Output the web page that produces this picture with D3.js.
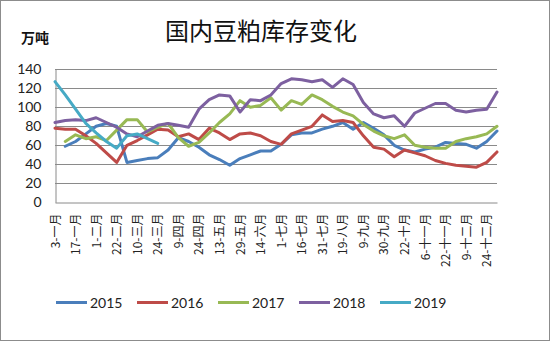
<!DOCTYPE html>
<html><head><meta charset="utf-8">
<script src="https://cdn.jsdelivr.net/npm/d3@7/dist/d3.min.js"></script>
<style>html,body{margin:0;padding:0;background:#fff}svg{display:block}</style>
</head><body><svg id="c" width="550" height="341"></svg>
<script>
const title = "国内豆粕库存变化";
const unitLabel = "万吨";
const tickLabels = ["3-一月","17-一月","1-二月","22-二月","10-三月","24-三月","9-四月","24-四月","13-五月","29-五月","14-六月","1-七月","16-七月","31-七月","19-八月","9-九月","30-九月","22-十月","6-十一月","22-十一月","9-十二月","24-十二月"];
const categoryCount = 44;
const yTicks = [0,20,40,60,80,100,120,140];
const seriesNames = ["2015","2016","2017","2018","2019"];
const colors = ["#4A7EBB","#BE4B48","#98B954","#7D60A0","#46AAC5"];
const s2015 = [null,59,64,72,80,83,80,42,44,46,47,55,68,64,58,50,45,39,46,50,54,54,61,71,73,73,77,80,84,77,84,78,71,60,55,53,56,58,63,62,61,57,64,75];
const s2016 = [78,77,77,70,62,52,42,60,65,71,77,76,69,72,66,78,73,66,72,73,70,64,61,72,76,80,92,85,86,84,70,58,56,48,55,52,49,44,41,39,38,37,42,53];
const s2017 = [null,64,71,67,69,65,76,87,87,74,79,83,68,59,63,73,84,93,107,100,102,110,97,107,103,113,108,101,95,91,82,75,70,67,71,60,58,57,57,64,67,69,72,80];
const s2018 = [84,86,87,86,89,84,79,72,69,75,81,83,81,79,98,108,113,112,95,108,107,113,125,130,129,127,129,121,130,124,105,93,89,91,80,94,99,104,104,97,95,97,98,116];
const s2019 = [127,113,98,83,73,64,57,70,72,67,62,null,null,null,null,null,null,null,null,null,null,null,null,null,null,null,null,null,null,null,null,null,null,null,null,null,null,null,null,null,null,null,null,null];
const seriesValues = [s2015,s2016,s2017,s2018,s2019];

const svg = d3.select("#c");
const W = 550, H = 341;
const m = {left:55, right:53, top:69.3, bottom:138.7};
const x = d3.scalePoint().domain(d3.range(categoryCount)).range([m.left, W - m.right]);
const y = d3.scaleLinear().domain([0,140]).range([H - m.bottom, m.top]);

svg.append("rect").attr("x",0.5).attr("y",0.5).attr("width",W-1).attr("height",H-1)
  .attr("fill","#fff").attr("stroke","#8c8c8c");

svg.append("text").attr("x",261).attr("y",40).attr("text-anchor","middle")
  .attr("font-family","'Noto Sans CJK SC'").attr("font-size",24).attr("fill","#111").text(title);
svg.append("text").attr("x",21).attr("y",43)
  .attr("font-family","'Noto Sans CJK SC'").attr("font-weight","bold").attr("font-size",14).attr("fill","#111").text(unitLabel);

// gridlines
svg.append("g").selectAll("line").data(yTicks.filter(d=>d>0)).join("line")
  .attr("x1",m.left).attr("x2",W-m.right)
  .attr("y1",d=>Math.round(y(d))+0.5).attr("y2",d=>Math.round(y(d))+0.5)
  .attr("stroke","#8a8a8a").attr("stroke-width",1);

// y axis
const yAxis = d3.axisLeft(y).tickValues(yTicks).tickSize(0).tickPadding(14);
const ga = svg.append("g").attr("transform",`translate(${m.left+0.5},0)`).call(yAxis);
ga.select(".domain").attr("stroke","#8a8a8a");
ga.selectAll("text").attr("font-family","Lato").attr("font-size",14).attr("fill","#222");

// x axis
const xAxis = d3.axisBottom(x).tickValues(d3.range(0,categoryCount,2))
  .tickFormat(d=>tickLabels[d/2]).tickSize(0).tickPadding(0);
const gx = svg.append("g").attr("transform",`translate(0,${Math.round(y(0))+0.5})`).call(xAxis);
gx.select(".domain").attr("stroke","#8a8a8a");
gx.selectAll("text").attr("font-family","'Noto Sans CJK SC'").attr("font-size",12).attr("fill","#222")
  .attr("text-anchor","end").attr("dy",null).attr("y",0)
  .attr("transform","translate(4,11) rotate(-90)");

// lines
const line = d3.line().defined(d=>d!=null).x((d,i)=>x(i)).y(d=>y(d));
svg.append("g").selectAll("path").data(seriesValues).join("path")
  .attr("d",d=>line(d)).attr("fill","none")
  .attr("stroke",(d,i)=>colors[i]).attr("stroke-width",3)
  .attr("stroke-linejoin","round").attr("stroke-linecap","round");

// legend
const lg = svg.append("g");
seriesNames.forEach((n,i)=>{
  const lx = 56 + i*81;
  lg.append("line").attr("x1",lx).attr("x2",lx+31).attr("y1",302.5).attr("y2",302.5)
    .attr("stroke",colors[i]).attr("stroke-width",3);
  lg.append("text").attr("x",lx+34).attr("y",307.5).attr("font-family","Lato")
    .attr("font-size",14).attr("fill","#222").text(n);
});
</script></body></html>
